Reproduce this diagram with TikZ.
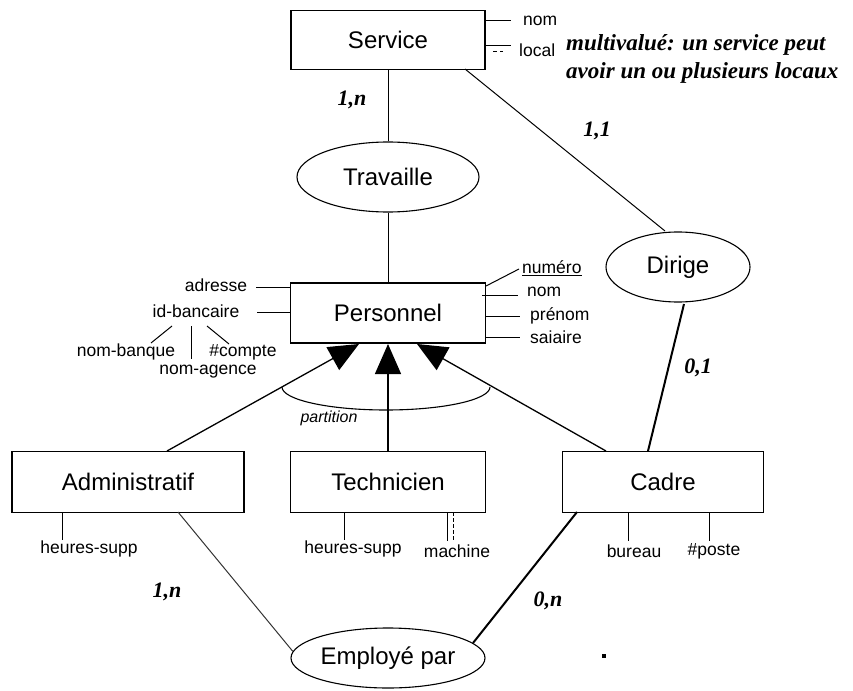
\documentclass[tikz,border=0pt]{standalone}
\usepackage{fontspec}
\setmainfont{Liberation Sans}
\newfontfamily\cardfont{Liberation Serif}
\usetikzlibrary{shapes.geometric,arrows.meta}

\tikzset{
  entity/.style={draw, line width=1.1pt, inner sep=0pt, font=\fontsize{24}{28}\selectfont},
  assoc/.style={draw, ellipse, line width=1.1pt, inner sep=0pt, font=\fontsize{24}{28}\selectfont},
  attr/.style={inner sep=0pt, font=\fontsize{17.5}{20}\selectfont},
  link/.style={line width=1pt},
  boldlink/.style={line width=2pt},
  isa/.style={line width=1.3pt, -{Triangle[length=30pt,width=26pt]}},
  card/.style={inner sep=0pt, font=\cardfont\fontsize{22}{26}\selectfont\bfseries\itshape},
  note/.style={inner sep=0pt, align=left, font=\cardfont\fontsize{23}{28}\selectfont\bfseries\itshape}
}

\begin{document}
\begin{tikzpicture}[x=1pt,y=-1pt]
\useasboundingbox (0,0) rectangle (853,690);

% entities
\node[entity, minimum width=194pt, minimum height=59pt] (service) at (388,40) {Service};
\node[entity, minimum width=195pt, minimum height=60pt] (personnel) at (388,313) {Personnel};
\node[entity, minimum width=232pt, minimum height=61pt] (admin) at (128,482) {Administratif};
\node[entity, minimum width=195pt, minimum height=61pt] (tech) at (388,482) {Technicien};
\node[entity, minimum width=201pt, minimum height=61pt] (cadre) at (663,482) {Cadre};

% associations
\node[assoc, minimum width=182pt, minimum height=70pt] (travaille) at (388,177) {Travaille};
\node[assoc, minimum width=144pt, minimum height=70pt] (dirige) at (678,267) {Dirige};
\node[assoc, minimum width=194pt, minimum height=60pt] (employe) at (388,658) {Employé par};

% Service attributes
\node[attr, anchor=west] (snom) at (523,21) {nom};
\node[attr, anchor=west] (slocal) at (519,50) {local};
\coordinate (snomL) at (511,21);
\coordinate (slocL) at (511,46);
\draw[link] (service.east |- snomL) -- (snomL);
\draw[link] (service.east |- slocL) -- (slocL);
\draw[link, dash pattern=on 4pt off 3pt] (493,52) -- (503,52);

% multivalued note
\node[note, anchor=north west] (mnote) at (566,34) {multivalué: un service peut\\avoir un ou plusieurs locaux};

% relationship links
\draw[link] (service.south) -- (travaille.north);
\draw[link] (travaille.south) -- (personnel.north);
\coordinate (sdir) at (465,69);
\coordinate (dtop) at (665,231);
\draw[link] (sdir) -- (dtop);
\coordinate (dbot) at (684,304);
\coordinate (ctop) at (648,451);
\draw[boldlink] (dbot) -- (ctop);

% cardinalities
\node[card] (c1) at (352,100) {1,n};
\node[card] (c2) at (597,131) {1,1};
\node[card] (c3) at (698,368) {0,1};
\node[card] (c4) at (167,592) {1,n};
\node[card] (c5) at (548,601) {0,n};

% Personnel attributes (right)
\node[attr, anchor=west] (num) at (522,268) {\underline{numéro}};
\node[attr, anchor=west] (pnom) at (527,292) {nom};
\node[attr, anchor=west] (prenom) at (530,316) {prénom};
\node[attr, anchor=west] (salaire) at (530,337) {saiaire};
\coordinate (pnum) at (486,286);
\coordinate (numL) at (519,269);
\coordinate (nomL) at (518,295);
\coordinate (preL) at (520,316);
\coordinate (salL) at (520,337);
\draw[link] (pnum) -- (numL);
\draw[link] (482,295) -- (nomL);
\draw[link] (personnel.east |- preL) -- (preL);
\draw[link] (personnel.east |- salL) -- (salL);

% Personnel attributes (left)
\node[attr] (adresse) at (216,285) {adresse};
\node[attr] (idb) at (196,311) {id-bancaire};
\node[attr] (banque) at (126,352) {nom-banque};
\node[attr] (compte) at (243,352) {\#compte};
\node[attr] (agence) at (208,372) {nom-agence};
\coordinate (adrR) at (256,287);
\coordinate (idbR) at (257,312);
\draw[link] (adrR) -- (personnel.west |- adrR);
\draw[link] (idbR) -- (personnel.west |- idbR);
\draw[link] (172,326) -- (151,343);
\draw[link] (191,326) -- (191,359);
\draw[link] (207,326) -- (229,344);

% specialisation
\coordinate (ta) at (359,344);
\coordinate (tt) at (388,344);
\coordinate (tc) at (417,344);
\coordinate (sa) at (167,451);
\coordinate (sc) at (606,451);
\draw[isa] (sa) -- (ta);
\draw[isa] (tech.north) -- (tt);
\draw[isa] (sc) -- (tc);
\draw[line width=1.1pt] (282,387) arc[start angle=180, end angle=0, x radius=104, y radius=23];
\node[inner sep=0pt, font=\fontsize{16}{19}\selectfont\itshape] (partition) at (329,418) {partition};

% subtype attributes
\node[attr] (hsa) at (89,549) {heures-supp};
\node[attr] (hst) at (353,549) {heures-supp};
\node[attr] (mach) at (457,551) {machine};
\node[attr] (bureau) at (634,551) {bureau};
\node[attr] (poste) at (714,551) {\#poste};
\draw[link] (62,512) -- (62,540);
\draw[link] (344,512) -- (344,540);
\draw[link] (447,512) -- (447,541);
\draw[link, dash pattern=on 4pt off 2pt] (453,512) -- (453,541);
\draw[link] (628,512) -- (628,541);
\draw[link] (709,512) -- (709,541);

% Employé par links
\coordinate (ae) at (178,512);
\coordinate (ce) at (577,512);
\draw[link, black!80] (ae) -- (employe.176);
\draw[boldlink] (ce) -- (employe.10);

% stray dot
\fill (602,654) rectangle (606,658);
\end{tikzpicture}
\end{document}
